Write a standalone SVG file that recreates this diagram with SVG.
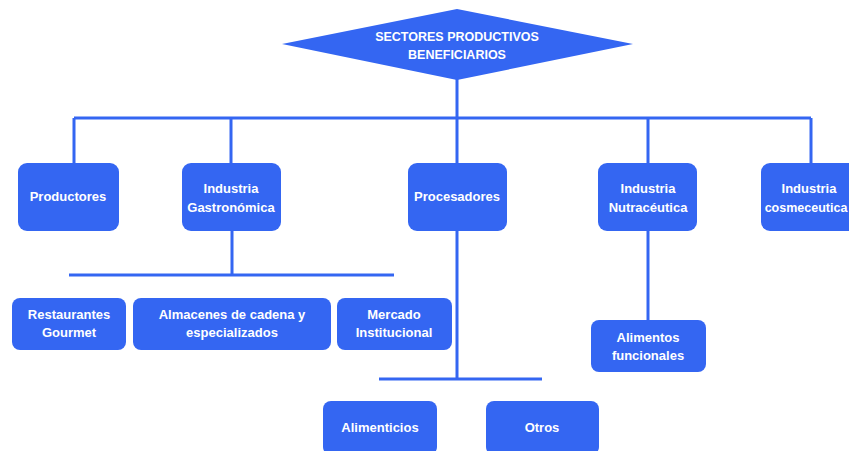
<svg xmlns="http://www.w3.org/2000/svg" width="849" height="451" viewBox="0 0 849 451">
<style>
.n{fill:#3466F2}
.t{fill:#fff;font-family:"Liberation Sans",Arial,sans-serif;font-weight:bold;font-size:13px;text-anchor:middle}
.c{stroke:#3466F2;stroke-width:3;fill:none}
</style>
<rect width="849" height="451" fill="#fff"/>
<g id="connectors">
<path class="c" d="M457 78V118M74 118H811M74 118V163M231 118V163M457 118V163M648 118V163M811 118V163"/>
<path class="c" d="M232 231V275M69 275H394"/>
<path class="c" d="M457 231V379M379 379H542"/>
<path class="c" d="M648 231V320"/>
</g>
<g id="root">
<polygon class="n" points="282,44 457,9 633,44 457,80"/>
<text class="t" x="457" y="41" style="font-size:12.5px">SECTORES PRODUCTIVOS</text>
<text class="t" x="457" y="59" style="font-size:12.5px">BENEFICIARIOS</text>
</g>
<g id="productores"><rect class="n" x="18" y="163" width="101" height="68" rx="9"/><text class="t" x="68" y="201">Productores</text></g>
<g id="gastronomica"><rect class="n" x="182" y="163" width="99" height="68" rx="9"/><text class="t" x="231" y="193">Industria</text><text class="t" x="231" y="212">Gastronómica</text></g>
<g id="procesadores"><rect class="n" x="408" y="163" width="99" height="68" rx="9"/><text class="t" x="457" y="201">Procesadores</text></g>
<g id="nutraceutica"><rect class="n" x="598" y="163" width="99" height="68" rx="9"/><text class="t" x="648" y="193">Industria</text><text class="t" x="648" y="212">Nutracéutica</text></g>
<g id="cosmeceutica"><rect class="n" x="761" y="163" width="100" height="68" rx="9"/><text class="t" x="809" y="193">Industria</text><text class="t" x="806" y="212" style="font-size:12.5px">cosmeceutica</text></g>
<g id="restaurantes"><rect class="n" x="12" y="298" width="114" height="52" rx="8"/><text class="t" x="69" y="319">Restaurantes</text><text class="t" x="69" y="337">Gourmet</text></g>
<g id="almacenes"><rect class="n" x="133" y="298" width="198" height="52" rx="8"/><text class="t" x="232" y="319">Almacenes de cadena y</text><text class="t" x="232" y="337">especializados</text></g>
<g id="mercado"><rect class="n" x="337" y="298" width="115" height="52" rx="8"/><text class="t" x="394" y="319">Mercado</text><text class="t" x="394" y="337">Institucional</text></g>
<g id="funcionales"><rect class="n" x="591" y="320" width="115" height="52" rx="8"/><text class="t" x="648" y="342">Alimentos</text><text class="t" x="648" y="360">funcionales</text></g>
<g id="alimenticios"><rect class="n" x="323" y="401" width="114" height="54" rx="8"/><text class="t" x="380" y="432">Alimenticios</text></g>
<g id="otros"><rect class="n" x="486" y="401" width="113" height="54" rx="8"/><text class="t" x="542" y="432">Otros</text></g>
</svg>
